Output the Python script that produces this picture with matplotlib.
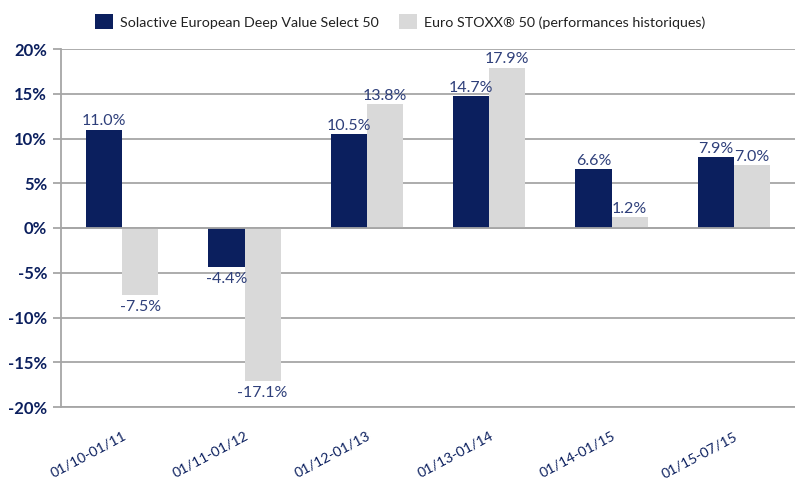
import matplotlib
matplotlib.use("Agg")
import matplotlib.pyplot as plt
import numpy as np
from matplotlib.ticker import FuncFormatter

categories = ["01/10-01/11", "01/11-01/12", "01/12-01/13", "01/13-01/14", "01/14-01/15", "01/15-07/15"]
solactive = [11.0, -4.4, 10.5, 14.7, 6.6, 7.9]
stoxx = [-7.5, -17.1, 13.8, 17.9, 1.2, 7.0]
series_names = ["Solactive European Deep Value Select 50", "Euro STOXX\u00ae 50 (performances historiques)"]

navy = "#0B1F5E"
light = "#D9D9D9"
txt = "#2E3F7A"
grid = "#A6A6A6"

plt.rcParams['font.family'] = ['Lato', 'DejaVu Sans']

fig = plt.figure(figsize=(7.95, 4.8), dpi=100)
ax = fig.add_axes([61/795, 1-407/480, 1-61/795, (407-49)/480])

x = np.arange(len(categories))
w = 0.295
b1 = ax.bar(x - w/2, solactive, w, color=navy, label=series_names[0], zorder=3)
b2 = ax.bar(x + w/2, stoxx, w, color=light, label=series_names[1], zorder=3)

for bars, vals in ((b1, solactive), (b2, stoxx)):
    for r, v in zip(bars, vals):
        cx = r.get_x() + r.get_width()/2
        if v >= 0:
            ax.annotate(f"{v:.1f}%", (cx, v), xytext=(0, 1), textcoords="offset points",
                        ha="center", va="bottom", color=txt, fontsize=11.5)
        else:
            ax.annotate(f"{v:.1f}%", (cx, v), xytext=(0, -3.5), textcoords="offset points",
                        ha="center", va="top", color=txt, fontsize=11.5)

ax.set_xlim(-0.5, len(categories) - 0.5)
ax.set_ylim(-20, 20)
ax.set_yticks(np.arange(-20, 21, 5))
ax.yaxis.set_major_formatter(FuncFormatter(lambda v, p: f"{int(v)}%"))
ax.grid(axis="y", color=grid, linewidth=1.3, zorder=0)
ax.axhline(0, color=grid, linewidth=1.3, zorder=4)
for s in ["top", "right"]:
    ax.spines[s].set_visible(False)
for s in ["left", "bottom"]:
    ax.spines[s].set_color(grid)
    ax.spines[s].set_linewidth(1.3)
ax.tick_params(axis="y", colors=grid, length=6, width=1.3, labelcolor=navy, labelsize=12, pad=4)
for lab in ax.get_yticklabels():
    lab.set_fontweight("bold")
ax.set_xticks(x)
ax.tick_params(axis="x", length=0, labelcolor=navy, labelsize=10.2, pad=16.5)
ax.set_xticklabels(categories, rotation=28, ha="right", va="top", rotation_mode="anchor")

leg = fig.legend(loc="upper center", bbox_to_anchor=(0.503, 0.997), ncol=2, frameon=False,
                 fontsize=10.3, handlelength=1.3, handleheight=1.25, columnspacing=1.4,
                 handletextpad=0.45)
for t in leg.get_texts():
    t.set_color("#222222")

fig.savefig("out.png", dpi=100)
